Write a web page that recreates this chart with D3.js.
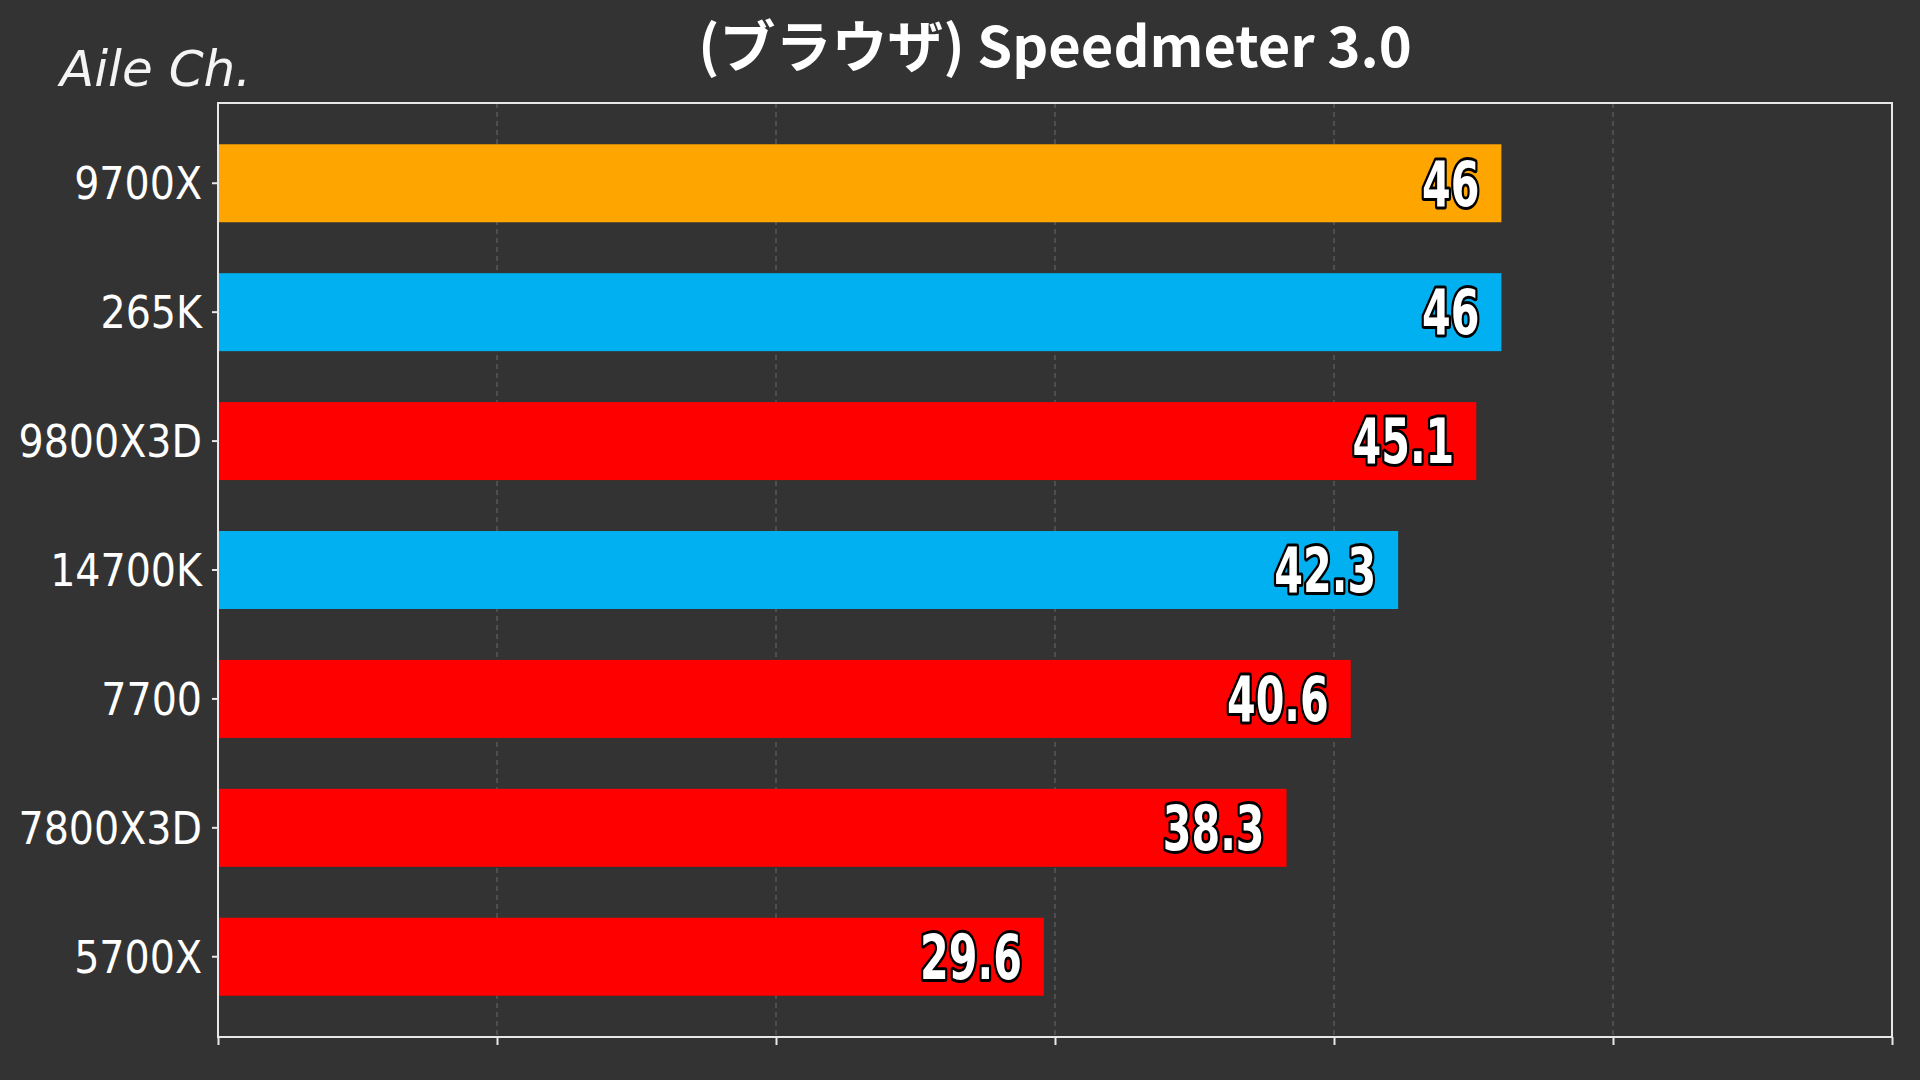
<!DOCTYPE html>
<html>
<head>
<meta charset="utf-8">
<script src="https://cdn.jsdelivr.net/npm/d3@7"></script>
<style>
  html, body { margin: 0; padding: 0; background: #333333; }
  svg { display: block; }
</style>
</head>
<body>
<svg id="chart"></svg>
<script>
var cpus = ["9700X", "265K", "9800X3D", "14700K", "7700", "7800X3D", "5700X"]
var scores = [46, 46, 45.1, 42.3, 40.6, 38.3, 29.6]
var makers = ["AMD", "Intel", "AMD", "Intel", "AMD", "AMD", "AMD"]
var highlight = "9700X"
var xTicks = [0, 10, 20, 30, 40, 50, 60]

var dataset = cpus.map((c, i) => ({ cpu: c, score: scores[i], maker: makers[i] }))

var dimensions = {
  width: 1920,
  height: 1080,
  margin: { top: 103, bottom: 43, right: 28, left: 218 }
}

var svg = d3.select("#chart")
  .attr("width", dimensions.width)
  .attr("height", dimensions.height)

svg.append("rect")
  .attr("width", dimensions.width)
  .attr("height", dimensions.height)
  .attr("fill", "#333333")

var x0 = dimensions.margin.left
var x1 = dimensions.width - dimensions.margin.right
var y0 = dimensions.margin.top
var y1 = dimensions.height - dimensions.margin.bottom

var xScale = d3.scaleLinear()
  .domain([0, 60])
  .range([x0, x1])

var yScale = d3.scaleBand()
  .domain(cpus)
  .range([y0, y1])
  .paddingInner(0.395)
  .paddingOuter(0.32)

var color = d => d.cpu == highlight ? "#FFA500" : (d.maker == "Intel" ? "#00B0F0" : "#FF0000")

// dashed grid
svg.append("g")
  .selectAll("line")
  .data(xTicks.slice(1, -1))
  .enter()
  .append("line")
  .attr("x1", d => xScale(d))
  .attr("x2", d => xScale(d))
  .attr("y1", y0)
  .attr("y2", y1)
  .attr("stroke", "#6a6a6a")
  .attr("stroke-width", 1)
  .attr("stroke-dasharray", "5,4")

// bars
svg.append("g")
  .selectAll("rect")
  .data(dataset)
  .enter()
  .append("rect")
  .attr("x", xScale(0))
  .attr("y", d => yScale(d.cpu))
  .attr("width", d => xScale(d.score) - xScale(0))
  .attr("height", yScale.bandwidth())
  .attr("fill", color)

// frame
svg.append("rect")
  .attr("x", x0)
  .attr("y", y0)
  .attr("width", x1 - x0)
  .attr("height", y1 - y0)
  .attr("fill", "none")
  .attr("stroke", "#e8e8e8")
  .attr("stroke-width", 2)

// axes
var xAxisGen = d3.axisBottom().scale(xScale).tickValues(xTicks).tickSize(8).tickFormat("")
var xAxis = svg.append("g")
  .call(xAxisGen)
  .attr("transform", `translate(0,${y1})`)
xAxis.select(".domain").remove()
xAxis.selectAll("line").attr("stroke", "#e8e8e8").attr("stroke-width", 2)

var yAxisGen = d3.axisLeft().scale(yScale).tickSize(6).tickPadding(10)
var yAxis = svg.append("g")
  .call(yAxisGen)
  .attr("transform", `translate(${x0},0)`)
yAxis.select(".domain").remove()
yAxis.selectAll("line").attr("stroke", "#e8e8e8").attr("stroke-width", 2)
yAxis.selectAll("text")
  .attr("fill", "#ffffff")
  .style("font-family", "'Liberation Sans Narrow', 'DejaVu Sans Condensed', 'Roboto', sans-serif")
  .style("font-size", "44px")
  .attr("dy", "0.36em")

// value labels (narrowed to mimic the condensed face)
svg.append("g")
  .selectAll("text")
  .data(dataset)
  .enter()
  .append("text")
  .attr("transform", d => `translate(${xScale(d.score) - 22},${yScale(d.cpu) + yScale.bandwidth() / 2}) scale(0.74,1)`)
  .attr("dy", "0.36em")
  .attr("text-anchor", "end")
  .attr("fill", "#ffffff")
  .attr("stroke", "#000000")
  .attr("stroke-width", 6)
  .attr("stroke-linejoin", "round")
  .attr("paint-order", "stroke")
  .style("font-family", "'Liberation Sans Narrow', 'DejaVu Sans Condensed', 'Roboto', sans-serif")
  .style("font-weight", "bold")
  .style("font-size", "62px")
  .text(d => d.score)

// title
svg.append("text")
  .attr("x", (x0 + x1) / 2)
  .attr("y", 67)
  .attr("text-anchor", "middle")
  .attr("fill", "#ffffff")
  .style("font-family", "'Noto Sans CJK JP', 'Noto Sans', sans-serif")
  .style("font-weight", "bold")
  .style("font-size", "56px")
  .text("(ブラウザ) Speedmeter 3.0")

// watermark
svg.append("text")
  .attr("x", 60)
  .attr("y", 86)
  .attr("fill", "#f4f4f4")
  .style("font-family", "cursive, 'DejaVu Sans'")
  .style("font-style", "italic")
  .style("font-weight", "300")
  .style("font-size", "50px")
  .text("Aile Ch.")
</script>
</body>
</html>
